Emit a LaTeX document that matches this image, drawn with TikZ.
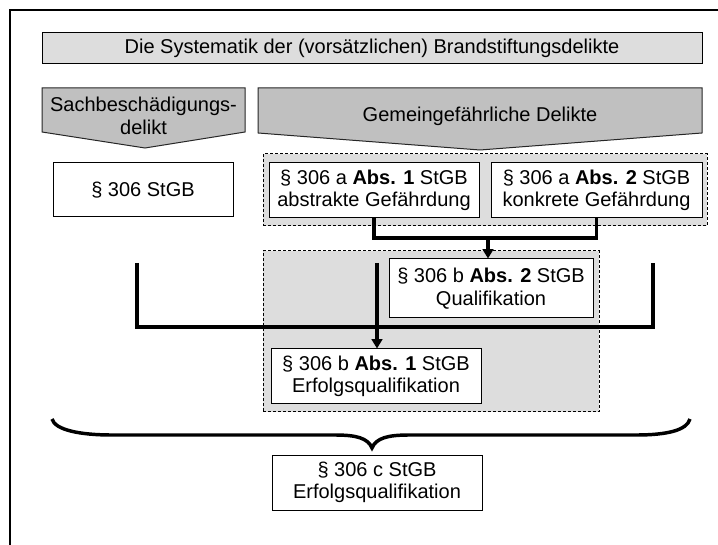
\documentclass[tikz,border=0pt]{standalone}
\usepackage{fontspec}
\setmainfont{Liberation Sans}
\usetikzlibrary{arrows.meta}
\definecolor{lightfill}{HTML}{DDDDDD}
\definecolor{darkfill}{HTML}{C0C0C0}
\tikzset{
  x=0.75pt, y=-0.75pt,
  every node/.style={font=\fontsize{15pt}{16.8pt}\selectfont, text=black},
  pbox/.style 2 args={draw=black, line width=0.75pt, fill=white, inner sep=0pt,
    align=center, minimum width={#1*0.75pt}, minimum height={#2*0.75pt}},
  dashbox/.style 2 args={draw=black, line width=0.75pt, fill=lightfill, inner sep=0pt,
    dash pattern=on 2.25pt off 1.5pt, minimum width={#1*0.75pt}, minimum height={#2*0.75pt}},
  conn/.style={line width=2.3pt, draw=black},
  arrowconn/.style={conn, -{Triangle[width=8pt,length=7pt]}},
  headshape/.style={draw=black!85, line width=0.75pt, fill=darkfill},
  frameline/.style={line width=1.6pt, draw=black}
}
\begin{document}
\begin{tikzpicture}
\useasboundingbox (0,0) rectangle (718,545);
% frame
\draw[frameline] (10,545) -- (10,10) -- (718,10);
% title
\node[pbox={660}{31}, fill=lightfill] (title) at (372,48.5) {Die Systematik der (vorsätzlichen) Brandstiftungsdelikte};
% heading arrows
\draw[headshape] (42,88) -- (245,88) -- (245,132) -- (145,148) -- (42,132) -- cycle;
\node[align=center] (sach) at (143.5,116) {Sachbeschädigungs-\\delikt};
\draw[headshape] (258,88) -- (702,88) -- (702,133) -- (480,150) -- (258,133) -- cycle;
\node (gemein) at (480,116) {Gemeingefährliche Delikte};
% left box
\node[pbox={180}{54}] (s306) at (143,190) {§ 306 StGB};
% dashed group 1
\node[dashbox={444}{72}] (dash1) at (485,190) {};
\node[pbox={210}{55}] (a1) at (374,190.5) {§ 306 a \textbf{Abs. 1} StGB\\abstrakte Gefährdung};
\node[pbox={211}{55}] (a2) at (596.5,190.5) {§ 306 a \textbf{Abs. 2} StGB\\konkrete Gefährdung};
% dashed group 2
\node[dashbox={336}{161}] (dash2) at (431,331.5) {};
\node[pbox={204}{59}] (b2) at (491,288.5) {§ 306 b \textbf{Abs. 2} StGB\\Qualifikation};
\node[pbox={210}{55}] (b1) at (376,376.5) {§ 306 b \textbf{Abs. 1} StGB\\Erfolgsqualifikation};
% connector a1/a2 -> b2
\coordinate (jl) at (374,238);
\coordinate (jr) at (596.5,238);
\coordinate (jm) at (488,238);
\draw[conn] (a1.south) -- (jl) -- (jr) -- (a2.south);
\draw[arrowconn] (jm) -- (jm |- b2.north);
% fork -> b1
\coordinate (fl) at (137,263);
\coordinate (flb) at (137,327);
\coordinate (fr) at (653,263);
\coordinate (frb) at (653,327);
\coordinate (fm) at (377,263);
\draw[conn, line width=2.6pt] (fl) -- (flb) -- (frb) -- (fr);
\draw[arrowconn] (fm) -- (fm |- b1.north);
% brace
\coordinate (bl) at (52,419);
\coordinate (br) at (690,419);
\coordinate (btip) at (372,448);
\draw[line width=2.6pt] (bl) .. controls (55,430) and (80,435) .. (112,435) -- (335,435)
  .. controls (356,435) and (368,438) .. (btip)
  .. controls (376,438) and (388,435) .. (409,435) -- (636,435)
  .. controls (668,435) and (687,430) .. (br);
% bottom box
\node[pbox={210}{55}] (c) at (377,482.5) {§ 306 c StGB\\Erfolgsqualifikation};
\end{tikzpicture}
\end{document}
